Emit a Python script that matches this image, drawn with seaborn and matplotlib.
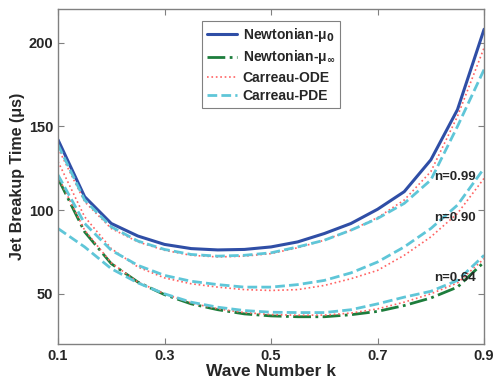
import matplotlib
matplotlib.use("Agg")
import matplotlib.pyplot as plt
import numpy as np
import pandas as pd
import seaborn as sns

# wave number grid
k = [0.10, 0.15, 0.20, 0.25, 0.30, 0.35, 0.40, 0.45, 0.50,
     0.55, 0.60, 0.65, 0.70, 0.75, 0.80, 0.85, 0.90]

# Newtonian curves
newt_mu0 = [142, 108, 92, 84.5, 79.5, 77, 76.2, 76.5, 78,
            81, 86, 92, 100.5, 111, 130, 160, 208]
newt_muinf = [119, 87, 68, 57, 49.5, 44, 40.5, 38, 36.8,
              36.3, 36.3, 37.5, 39.5, 43, 47.5, 54, 69]

# Carreau ODE (red dotted), n = 0.99 / 0.90 / 0.64
ode_099 = [137, 105, 89, 81, 76, 73, 72, 72.5, 74,
           77.5, 82, 88, 95.5, 106, 123, 156, 197]
ode_090 = [129, 96, 77, 66, 59.5, 56, 54, 52.5, 52,
           52.5, 55, 59, 64, 73, 84, 98, 119]
ode_064 = [120, 88, 68.5, 57, 50, 44.5, 41, 38.8, 37.6,
           37.2, 37.3, 38.5, 41, 45, 50, 56.5, 71]

# Carreau PDE (cyan dashed)
pde_099 = [139, 106, 90, 81.5, 76.5, 73.5, 72.5, 73, 74.5,
           78, 82, 88, 95, 104, 118, 150, 184]
pde_090 = [121, 92, 76, 67, 61, 57.5, 55.5, 54, 54,
           55.5, 58, 62.5, 69, 78, 89, 103, 125]
pde_064 = [89, 78, 65, 56.5, 50, 45, 42, 40, 39,
           38.8, 38.8, 40.5, 44, 48, 51.5, 58, 73]

n_labels = ["n=0.99", "n=0.90", "n=0.64"]
n_label_pos = [(0.846, 119.5), (0.845, 95), (0.845, 59.5)]

sns.set_style("ticks", {"xtick.direction": "in", "ytick.direction": "in",
                        "axes.edgecolor": "#808080"})
plt.rcParams['font.family'] = ['Liberation Sans', 'DejaVu Sans']
plt.rcParams['font.weight'] = 'bold'

fig = plt.figure(figsize=(4.94, 3.81), dpi=100)
ax = fig.add_axes([0.1174, 0.097, 0.8626, 0.879])

blue = "#2f4ea6"
green = "#1d7d3c"
red = "#ff6262"
cyan = "#5fc6d8"

sns.lineplot(x=k, y=newt_mu0, ax=ax, color=blue, lw=2.2, label="Newtonian-μ$_0$")
sns.lineplot(x=k, y=newt_muinf, ax=ax, color=green, lw=2.0, linestyle="-.",
             label="Newtonian-μ$_{\\infty}$")
for i, ys in enumerate([ode_099, ode_090, ode_064]):
    sns.lineplot(x=k, y=ys, ax=ax, color=red, lw=1.2, linestyle=":",
                 label="Carreau-ODE" if i == 0 else None)
for i, ys in enumerate([pde_099, pde_090, pde_064]):
    sns.lineplot(x=k, y=ys, ax=ax, color=cyan, lw=2.0, linestyle=(0, (3.5, 1.5)),
                 label="Carreau-PDE" if i == 0 else None)

for txt, (tx, ty) in zip(n_labels, n_label_pos):
    ax.text(tx, ty, txt, ha="center", va="center", fontsize=9.5, fontweight="bold")

ax.set_xlim(0.1, 0.9)
ax.set_ylim(20, 220)
ax.set_xticks([0.1, 0.3, 0.5, 0.7, 0.9])
ax.set_xticklabels(["0.1", "0.3", "0.5", "0.7", "0.9"])
ax.set_yticks([50, 100, 150, 200])
ax.tick_params(axis="both", labelsize=10.5, length=4, width=0.8, color="#808080",
               top=True, right=True, direction="in")
for lab in ax.get_xticklabels() + ax.get_yticklabels():
    lab.set_fontweight("bold")
for sp in ax.spines.values():
    sp.set_visible(True)
    sp.set_color("#808080")
    sp.set_linewidth(1.0)

ax.set_xlabel("Wave Number k", fontsize=12.5, fontweight="bold", labelpad=1)
ax.set_ylabel("Jet Breakup Time (μs)", fontsize=11.5, fontweight="bold")
ax.yaxis.set_label_coords(-0.077, 0.5)

leg = ax.legend(loc="upper center", bbox_to_anchor=(0.5, 0.984), fontsize=10,
                frameon=True, fancybox=False, edgecolor="#808080", framealpha=1,
                handlelength=2.15, borderpad=0.35, labelspacing=0.3, handletextpad=0.45)
leg.get_frame().set_linewidth(0.8)
for t in leg.get_texts():
    t.set_fontweight("bold")

fig.savefig("out.png", dpi=100)
